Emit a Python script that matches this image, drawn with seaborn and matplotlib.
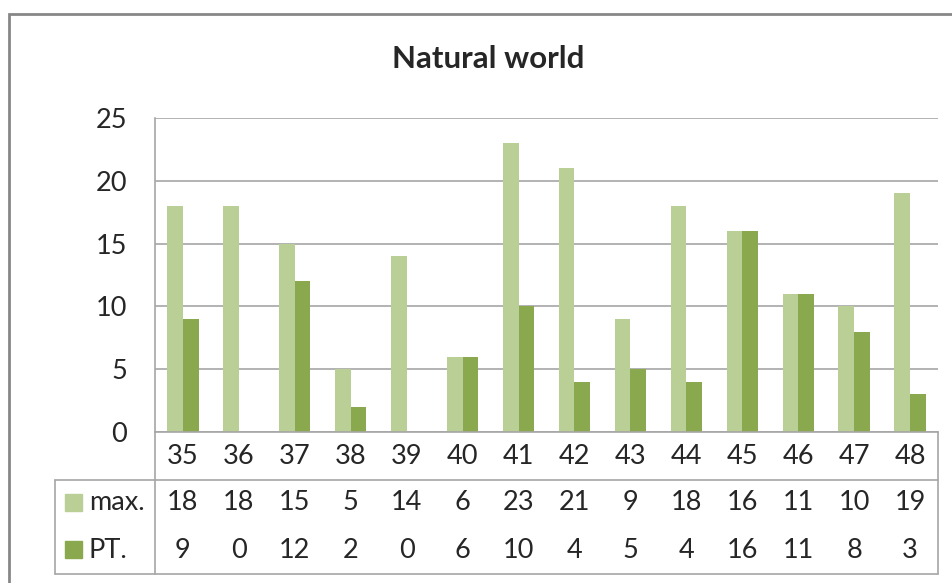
import pandas as pd
import numpy as np
import seaborn as sns
import matplotlib.pyplot as plt
from matplotlib.patches import Rectangle
from matplotlib.lines import Line2D
from matplotlib.transforms import blended_transform_factory

categories = ['35', '36', '37', '38', '39', '40', '41', '42', '43', '44', '45', '46', '47', '48']
max_vals = [18, 18, 15, 5, 14, 6, 23, 21, 9, 18, 16, 11, 10, 19]
pt_vals = [9, 0, 12, 2, 0, 6, 10, 4, 5, 4, 16, 11, 8, 3]
series = ['max.', 'PT.']
colors = ['#B9CF96', '#8AA84E']

data = pd.DataFrame({
    'cat': categories * 2,
    'value': max_vals + pt_vals,
    'series': [series[0]] * len(categories) + [series[1]] * len(categories),
})

sns.set_style('white')
plt.rcParams['font.family'] = ['Lato', 'DejaVu Sans']

W, H = 953, 583
fig = plt.figure(figsize=(W / 100, H / 100), dpi=100)

def fx(px):
    return px / W

def fy(py):
    return 1 - py / H

fs = 19.5
grid_col = '#A6A6A6'
L, R, T, B = 155, 938, 118, 432
ax = fig.add_axes([fx(L), fy(B), fx(R) - fx(L), fy(T) - fy(B)])

sns.barplot(data=data, x='cat', y='value', hue='series', palette=colors,
            width=0.56, saturation=1, ax=ax, legend=False, linewidth=0)

ax.set_ylim(0, 25)
ax.set_yticks(range(0, 26, 5))
ax.set_xlim(-0.5, len(categories) - 0.5)
ax.yaxis.grid(True, color=grid_col, linewidth=1.2)
ax.set_axisbelow(True)
ax.set_xlabel('')
ax.set_ylabel('')
ax.set_xticks([])
ax.tick_params(axis='y', length=0, pad=20, labelsize=fs)
for s in ['top', 'right']:
    ax.spines[s].set_visible(False)
ax.spines['left'].set_color(grid_col)
ax.spines['bottom'].set_color(grid_col)
ax.spines['left'].set_linewidth(1.2)
ax.spines['bottom'].set_linewidth(1.2)

# data table under the plot
tr = blended_transform_factory(ax.transData, fig.transFigure)
rows = [(categories, 457), ([str(v) for v in max_vals], 503), ([str(v) for v in pt_vals], 550)]
for labels, ypx in rows:
    for i, lab in enumerate(labels):
        fig.text(i, fy(ypx), lab, transform=tr, ha='center', va='center', fontsize=fs)

def hline(x0, x1, y):
    fig.add_artist(Line2D([fx(x0), fx(x1)], [fy(y), fy(y)], color=grid_col, lw=1.2))

def vline(x, y0, y1):
    fig.add_artist(Line2D([fx(x), fx(x)], [fy(y0), fy(y1)], color=grid_col, lw=1.2))

hline(55, R, 480)
hline(55, R, 574)
vline(55, 480, 574)
vline(L, B, 574)
vline(R, B, 574)

# legend keys inside the table
for (name, col, ypx) in [(series[0], colors[0], 503), (series[1], colors[1], 550)]:
    fig.add_artist(Rectangle((fx(65), fy(ypx + 8)), fx(17), 17 / H, color=col))
    fig.text(fx(89), fy(ypx), name, ha='left', va='center', fontsize=fs)

fig.text(fx(488), fy(59), 'Natural world', ha='center', va='center',
         fontsize=22.5, fontweight='bold')

# outer chart border
fig.add_artist(Rectangle((fx(9), fy(600)), fx(1000), (600 - 14) / H,
                         fill=False, edgecolor='#878787', lw=2))

fig.savefig('out.png', dpi=100)
